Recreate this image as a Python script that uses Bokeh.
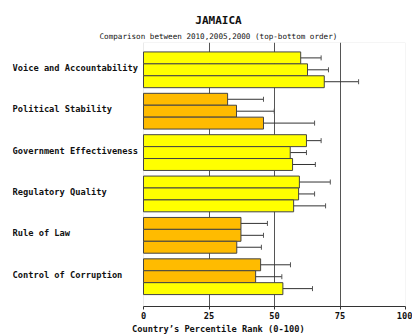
from bokeh.plotting import figure
from bokeh.models import ColumnDataSource, Whisker, TeeHead, Title, FixedTicker, Range1d, BoxAnnotation
from bokeh.core.properties import value
from bokeh.embed import file_html
from bokeh.resources import INLINE

categories = ["Voice and Accountability", "Political Stability", "Government Effectiveness",
              "Regulatory Quality", "Rule of Law", "Control of Corruption"]
years = ["2010", "2005", "2000"]
values_2010 = [60.0, 32.1, 62.2, 59.5, 37.2, 44.7]
values_2005 = [62.6, 35.5, 56.0, 59.2, 37.2, 42.8]
values_2000 = [69.0, 45.8, 56.9, 57.3, 35.6, 53.2]
lower_2010 = [54.7, 21.0, 49.9, 53.2, 27.6, 30.2]
upper_2010 = [67.8, 45.8, 67.8, 71.3, 47.3, 56.1]
lower_2005 = [55.3, 22.5, 44.3, 52.8, 28.0, 29.4]
upper_2005 = [70.6, 49.9, 62.2, 65.3, 45.8, 52.8]
lower_2000 = [58.5, 28.4, 43.9, 40.6, 28.6, 33.2]
upper_2000 = [82.1, 65.3, 65.6, 69.5, 45.0, 64.5]
x_ticks = [0, 25, 50, 75, 100]

band_edges = [10, 25, 50, 75, 90, 101]
band_colors = ["#FF0000", "#FF7700", "#FFBB00", "#FFFF00", "#99FF00", "#00CC00"]

def band_color(v):
    for e, c in zip(band_edges, band_colors):
        if v < e:
            return c
    return band_colors[-1]

series = [(values_2010, lower_2010, upper_2010),
          (values_2005, lower_2005, upper_2005),
          (values_2000, lower_2000, upper_2000)]
bar_h = 0.288
offsets = [bar_h, 0.0, -bar_h]
n = len(categories)

ys, vals, los, ups, cols = [], [], [], [], []
for (v, lo, up), off in zip(series, offsets):
    for i in range(n):
        ys.append((n - 1 - i) + off)
        vals.append(v[i])
        los.append(lo[i])
        ups.append(up[i])
        cols.append(band_color(v[i]))

src = ColumnDataSource(dict(y=ys, v=vals, lower=los, upper=ups, color=cols))

font = "DejaVu Sans Mono"
FW, FH = 393, 264
LABEL_PX = 131                      # room for category names left of the value axis
x_min, x_max = x_ticks[0], x_ticks[-1]
x_left = -LABEL_PX * (x_max - x_min) / (FW - LABEL_PX)
y_lo, y_hi = -0.72, n - 1 + 0.66

p = figure(output_backend="svg", toolbar_location=None, title=None,
           frame_width=FW, frame_height=FH,
           x_range=Range1d(x_left, x_max), y_range=Range1d(y_lo, y_hi),
           min_border_left=12, min_border_right=7, min_border_top=42, min_border_bottom=29,
           background_fill_color="white", border_fill_color="white")
p.outline_line_color = None

# plot-area box (value range 0..100)
p.add_layout(BoxAnnotation(left=x_min, right=x_max, bottom=y_lo, top=y_hi,
                           fill_alpha=0, line_color="#bbbbbb", line_width=1, level="underlay"))

p.hbar(y="y", left=0, right="v", height=bar_h, source=src,
       fill_color="color", line_color="#444444", line_width=1)

wh = Whisker(source=src, base="y", lower="lower", upper="upper", dimension="width",
             line_color="#333333", line_width=1,
             lower_head=TeeHead(size=5, line_color="#555555", line_width=1),
             upper_head=TeeHead(size=5, line_color="#555555", line_width=1))
p.add_layout(wh)

p.text(x=[x_left] * n, y=[n - 1 - i for i in range(n)], text=categories,
       text_font=value(font), text_font_style="bold", text_font_size="8.7px",
       text_align="left", text_baseline="middle", text_color="#111111", y_offset=-2)

p.yaxis.visible = False
p.ygrid.grid_line_color = None
p.xgrid.ticker = FixedTicker(ticks=x_ticks[1:-1])
p.xgrid.grid_line_color = "#555555"

ax = p.xaxis[0]
ax.ticker = FixedTicker(ticks=x_ticks)
ax.bounds = (x_min, x_max)
ax.axis_line_color = "#333333"
ax.major_tick_line_color = "#333333"
ax.major_tick_out = 3
ax.major_tick_in = 0
ax.minor_tick_line_color = None
ax.major_label_standoff = 2
ax.major_label_text_font = font
ax.major_label_text_font_style = "bold"
ax.major_label_text_font_size = "8.7px"
ax.major_label_text_color = "#111111"

def cw(txt, size):
    return len(txt) * 0.602 * size

center = 206
sub_text = "Comparison between " + ",".join(years) + " (top-bottom order)"
t_sub = Title(text=sub_text, align="left", offset=center - cw(sub_text, 7.6) / 2,
              text_font=font, text_font_style="normal", text_font_size="7.6px",
              text_color="#111111", standoff=3)
t_main = Title(text="JAMAICA", align="left", offset=center - cw("JAMAICA", 11) / 2,
               text_font=font, text_font_style="bold", text_font_size="11px",
               text_color="#111111", standoff=4)
p.add_layout(t_sub, "above")
p.add_layout(t_main, "above")

xl_text = "Country\u2019s Percentile Rank (0-100)"
t_xl = Title(text=xl_text, align="left", offset=center - cw(xl_text, 8.7) / 2,
             text_font=font, text_font_style="bold", text_font_size="8.7px",
             text_color="#111111", standoff=0)
p.add_layout(t_xl, "below")

open("out.html", "w").write(file_html(p, INLINE))
